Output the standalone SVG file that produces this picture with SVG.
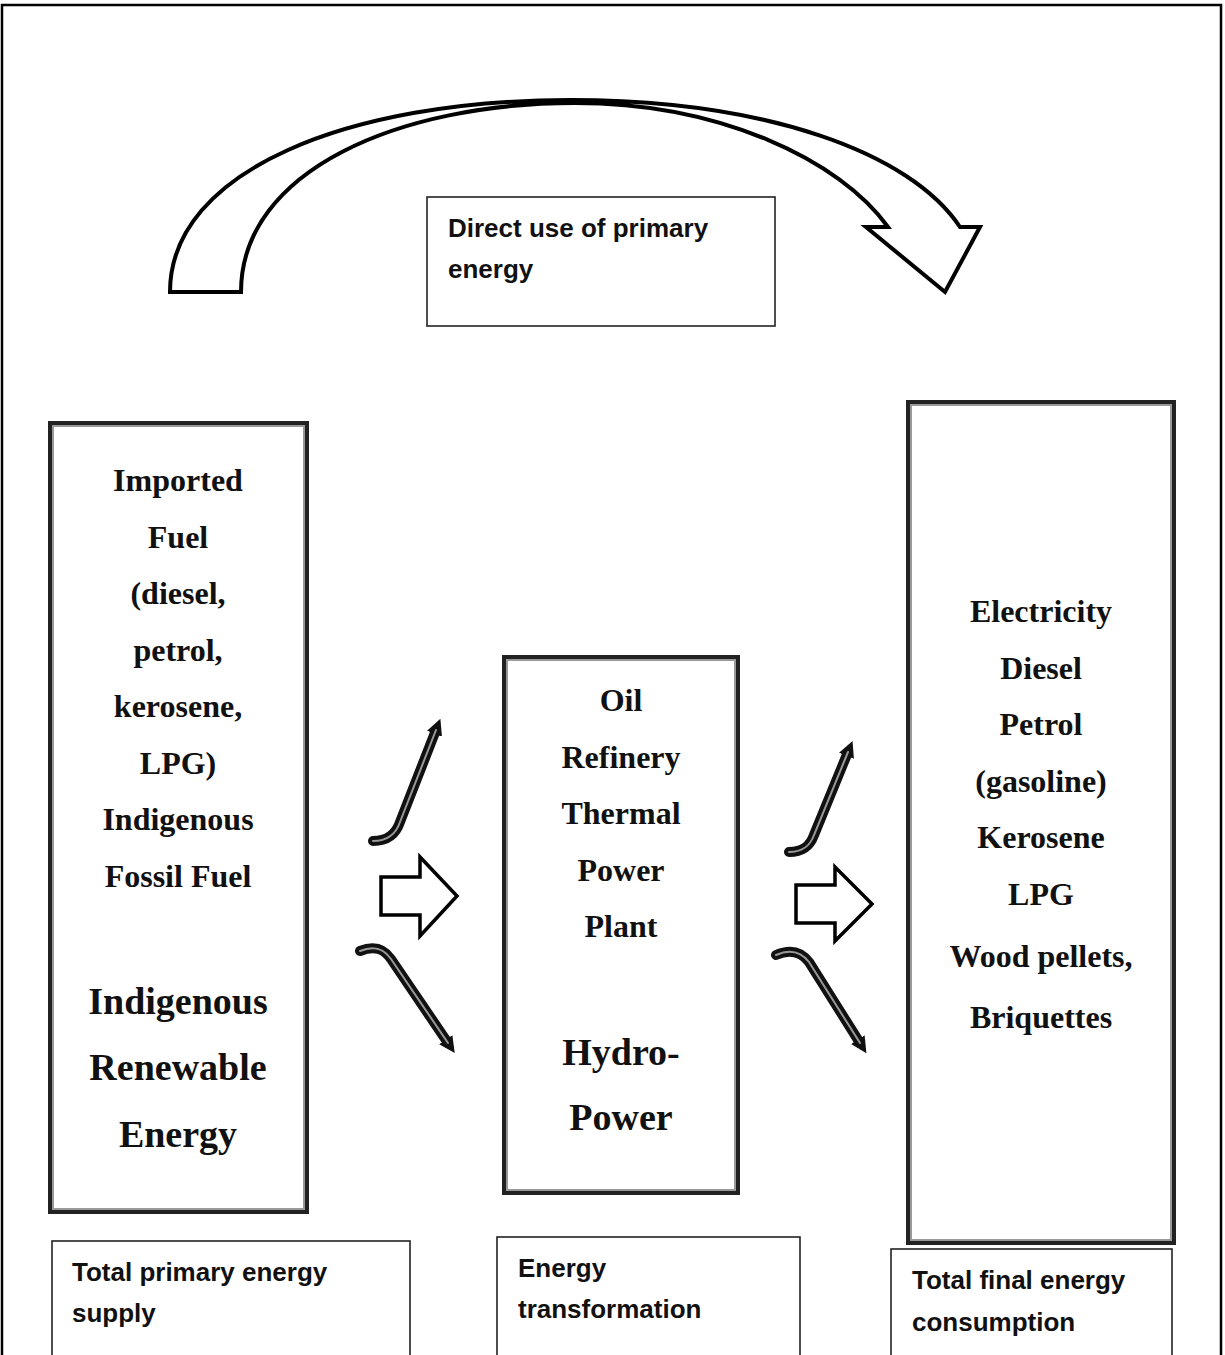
<svg xmlns="http://www.w3.org/2000/svg" width="1225" height="1355" viewBox="0 0 1225 1355">
<defs>
<style>
.frame{fill:none;stroke:#000;stroke-width:2.5}
.lbl{fill:#fff;stroke:#222;stroke-width:1.6}
.boxo{fill:#fff;stroke:#222;stroke-width:4}
.boxi{fill:none;stroke:#999;stroke-width:2}
.serif{font-family:"Liberation Serif","Times New Roman",serif;font-weight:bold;fill:#111;text-anchor:middle}
.s32{font-size:32px}
.s38{font-size:38px}
.sans{font-family:"Liberation Sans",Arial,sans-serif;font-weight:bold;font-size:26px;fill:#111}
.bend{fill:none;stroke:#111;stroke-width:10;stroke-linecap:round;stroke-linejoin:round}
.bendi{fill:none;stroke:#999;stroke-width:2;stroke-linecap:round}
.block{fill:#fff;stroke:#000;stroke-width:3.5;stroke-linejoin:miter}
</style>
<marker id="ah" markerUnits="userSpaceOnUse" markerWidth="20" markerHeight="20" viewBox="0 0 20 20" refX="4" refY="10" orient="auto">
<path d="M0,2 L16,10 L0,18 z" fill="#111"/>
</marker>
</defs>
<rect x="0" y="0" width="1225" height="1355" fill="#fff"/>
<rect class="frame" x="2" y="5" width="1219" height="1370"/>

<g id="connectors">
<path id="arc" d="M170,292 C170,170 350,100 570,100 C765,100 910,152 960,227 L980,227 L945,292 L866,227 L888,227 C840,160 720,103 575,103 C400,103 241,170 241,292 Z" fill="#fff" stroke="#000" stroke-width="4" stroke-linejoin="miter"/>
<path class="bend" d="M373,841 C388,841 396,834 400,822 L436,730" marker-end="url(#ah)"/>
<path class="bendi" d="M373,841 C388,841 396,834 400,822 L436,730"/>
<path class="bend" d="M360,951 C375,945 384,949 391,959 L448,1043" marker-end="url(#ah)"/>
<path class="bendi" d="M360,951 C375,945 384,949 391,959 L448,1043"/>
<path class="bend" d="M789,852 C803,852 810,846 814,835 L848,752" marker-end="url(#ah)"/>
<path class="bendi" d="M789,852 C803,852 810,846 814,835 L848,752"/>
<path class="bend" d="M776,955 C792,948 802,953 809,962 L860,1043" marker-end="url(#ah)"/>
<path class="bendi" d="M776,955 C792,948 802,953 809,962 L860,1043"/>
<polygon class="block" points="381,877 420,877 420,857 457,896 420,936 420,915 381,915"/>
<polygon class="block" points="796,885 835,885 835,867 872,904 835,941 835,923 796,923"/>
</g>

<g id="direct-use">
<rect class="lbl" x="427" y="197" width="348" height="129"/>
<text class="sans" x="448" y="237">Direct use of primary</text>
<text class="sans" x="448" y="278">energy</text>
</g>

<g id="primary-box">
<rect class="boxo" x="50" y="423" width="257" height="789"/>
<rect class="boxi" x="53" y="426" width="251" height="783"/>
<text class="serif s32" x="178" y="491">Imported</text>
<text class="serif s32" x="178" y="548">Fuel</text>
<text class="serif s32" x="178" y="604">(diesel,</text>
<text class="serif s32" x="178" y="661">petrol,</text>
<text class="serif s32" x="178" y="717">kerosene,</text>
<text class="serif s32" x="178" y="774">LPG)</text>
<text class="serif s32" x="178" y="830">Indigenous</text>
<text class="serif s32" x="178" y="887">Fossil Fuel</text>
<text class="serif s38" x="178" y="1014">Indigenous</text>
<text class="serif s38" x="178" y="1080">Renewable</text>
<text class="serif s38" x="178" y="1147">Energy</text>
</g>

<g id="transformation-box">
<rect class="boxo" x="504" y="657" width="234" height="536"/>
<rect class="boxi" x="507" y="660" width="228" height="530"/>
<text class="serif s32" x="621" y="711">Oil</text>
<text class="serif s32" x="621" y="768">Refinery</text>
<text class="serif s32" x="621" y="824">Thermal</text>
<text class="serif s32" x="621" y="881">Power</text>
<text class="serif s32" x="621" y="937">Plant</text>
<text class="serif s38" x="621" y="1065">Hydro-</text>
<text class="serif s38" x="621" y="1130">Power</text>
</g>

<g id="final-box">
<rect class="boxo" x="908" y="402" width="266" height="841"/>
<rect class="boxi" x="911" y="405" width="260" height="835"/>
<text class="serif s32" x="1041" y="622">Electricity</text>
<text class="serif s32" x="1041" y="679">Diesel</text>
<text class="serif s32" x="1041" y="735">Petrol</text>
<text class="serif s32" x="1041" y="792">(gasoline)</text>
<text class="serif s32" x="1041" y="848">Kerosene</text>
<text class="serif s32" x="1041" y="905">LPG</text>
<text class="serif s32" x="1041" y="967">Wood pellets,</text>
<text class="serif s32" x="1041" y="1028">Briquettes</text>
</g>

<g id="label-supply">
<rect class="lbl" x="52" y="1241" width="358" height="130"/>
<text class="sans" x="72" y="1281">Total primary energy</text>
<text class="sans" x="72" y="1322">supply</text>
</g>

<g id="label-transformation">
<rect class="lbl" x="497" y="1237" width="303" height="134"/>
<text class="sans" x="518" y="1277">Energy</text>
<text class="sans" x="518" y="1318">transformation</text>
</g>

<g id="label-consumption">
<rect class="lbl" x="891" y="1249" width="281" height="122"/>
<text class="sans" x="912" y="1289">Total final energy</text>
<text class="sans" x="912" y="1331">consumption</text>
</g>
</svg>
